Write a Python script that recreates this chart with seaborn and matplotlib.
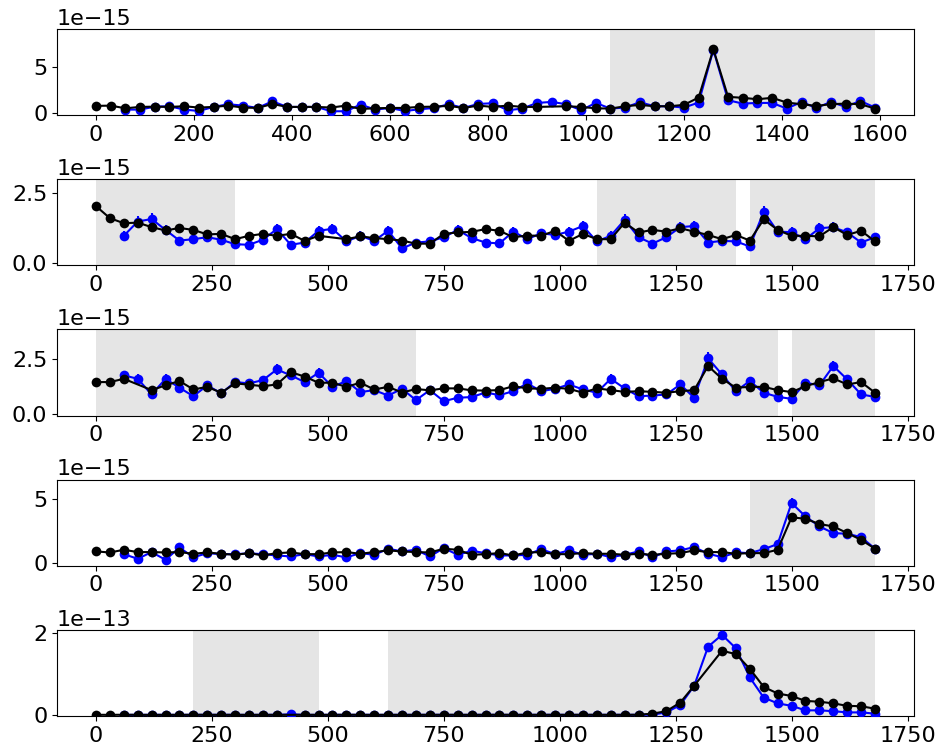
import numpy as np
import pandas as pd
import matplotlib
matplotlib.use("Agg")
import matplotlib.pyplot as plt
import seaborn as sns

nan = np.nan

# time grid (s): panel 1 runs to 1590, the others to 1680; the blue series starts at 60
t_short = np.arange(0, 1591, 30)
t_long = np.arange(0, 1681, 30)

# ---- panel 1 (x1e-15) ----
black1 = [0.80, 0.83, 0.54, 0.69, 0.72, 0.69, 0.76, 0.62, 0.69, 0.83,
          0.62, 0.58, 1.01, 0.69, 0.69, 0.69, 0.62, 0.83, 0.47, 0.54,
          0.58, 0.58, 0.69, 0.72, 0.80, 0.58, 0.83, 0.69, 0.83, 0.69,
          0.69, nan, 0.76, 0.69, 0.54, 0.51, 0.76, 0.91, 0.76, 0.76,
          0.91, 1.70, 6.92, 1.78, 1.67, 1.52, 1.67, 1.16, 0.98, 0.80,
          0.98, 1.05, 0.98, 0.51]
blue1 = [0.40, 0.40, 0.72, 0.76, 0.40, 0.25, 0.69, 0.98,
         0.83, 0.58, 1.30, 0.69, 0.69, 0.69, 0.22, 0.22, 0.94, 0.40,
         0.58, 0.25, 0.43, 0.58, 0.98, 0.58, 1.01, 1.09, 0.33, 0.51,
         1.12, 1.23, 0.98, 0.33, 1.12, 0.51, 0.62, 1.20, 0.76, 0.76,
         0.62, 1.16, 6.85, 1.41, 1.05, 1.12, 1.12, 0.51, 1.23, 0.58,
         1.23, 0.69, 1.34, 0.62]
err1 = [0.14, 0.15, 0.17, 0.16, 0.14, 0.12, 0.16, 0.18,
        0.17, 0.15, 0.21, 0.16, 0.16, 0.16, 0.12, 0.12, 0.18, 0.14,
        0.15, 0.12, 0.14, 0.15, 0.18, 0.15, 0.19, 0.19, 0.13, 0.14,
        0.19, 0.20, 0.18, 0.13, 0.19, 0.14, 0.15, 0.20, 0.16, 0.16,
        0.15, 0.20, 0.45, 0.21, 0.19, 0.19, 0.19, 0.14, 0.20, 0.15,
        0.20, 0.16, 0.21, 0.15]
spans1 = [(1050, 1590)]

# ---- panel 2 (x1e-15) ----
black2 = [2.03, 1.60, 1.42, 1.44, 1.28, 1.16, 1.25, 1.18, 1.02, 1.04,
          0.85, 0.97, 1.04, 0.97, 1.04, 0.79, 0.97, nan, 0.85, 0.95,
          0.89, 0.85, 0.80, 0.69, 0.69, 1.04, 1.09, 1.11, 1.21, 1.15,
          0.92, 0.98, 0.97, 1.15, 0.79, 1.04, 0.85, 0.85, 1.44, 1.09,
          1.18, 1.12, 1.24, 1.12, 1.00, 0.85, 1.00, 0.80, 1.56, 1.18,
          0.97, 0.97, 0.95, 1.28, 1.00, 1.15, 0.77]
blue2 = [0.97, 1.48, 1.57, 1.18, 0.80, 0.85, 0.92, 0.83,
         0.67, 0.65, 0.83, 1.21, 0.65, 0.73, 1.15, 1.22, 0.77, 0.97,
         0.79, 1.15, 0.52, 0.73, 0.77, 0.92, 1.18, 0.89, 0.73, 0.70,
         1.12, 0.85, 1.06, 1.00, 1.12, 1.32, 0.77, 0.97, 1.54, 0.92,
         0.69, 0.92, 1.28, 1.32, 0.73, 0.79, 0.77, 0.59, 1.83, 1.12,
         1.10, 0.85, 1.24, 1.28, 1.09, 0.73, 0.92]
err2 = [0.16, 0.19, 0.20, 0.17, 0.14, 0.15, 0.15, 0.15,
        0.13, 0.13, 0.15, 0.18, 0.13, 0.14, 0.17, 0.18, 0.14, 0.16,
        0.14, 0.17, 0.12, 0.14, 0.14, 0.15, 0.17, 0.15, 0.14, 0.14,
        0.17, 0.15, 0.16, 0.16, 0.17, 0.18, 0.14, 0.16, 0.20, 0.15,
        0.14, 0.15, 0.18, 0.18, 0.14, 0.14, 0.14, 0.13, 0.22, 0.17,
        0.17, 0.15, 0.18, 0.18, 0.17, 0.14, 0.15]
spans2 = [(0, 300), (1080, 1380), (1410, 1680)]

# ---- panel 3 (x1e-15) ----
black3 = [1.46, 1.46, 1.61, nan, 1.09, 1.31, 1.51, 1.12, 1.24, 0.97,
          1.40, 1.34, 1.27, 1.35, 1.92, 1.71, 1.43, 1.43, 1.24, 1.43,
          1.12, 1.24, 0.98, 1.14, 1.08, 1.17, 1.17, 1.08, 1.07, 1.09,
          1.27, 1.17, 1.15, 1.20, 1.15, 0.97, 1.17, 1.09, 1.01, 1.04,
          1.01, 0.97, 1.04, 1.09, 2.20, 1.61, 1.20, 1.24, 1.24, 1.09,
          1.00, 1.27, 1.46, 1.63, 1.35, 1.46, 0.97]
blue3 = [1.77, 1.61, 0.89, 1.61, 1.20, 0.81, 1.31, 0.94,
         1.46, 1.40, 1.55, 2.04, 1.77, 1.46, 1.89, 1.24, 1.51, 1.00,
         1.09, 0.84, 1.15, 0.63, 1.09, 0.58, 0.74, 0.77, 0.98, 0.86,
         1.04, 1.40, 1.04, 1.15, 1.35, 1.12, 0.97, 1.61, 1.17, 0.81,
         0.84, 0.89, 1.35, 0.74, 2.55, 1.81, 1.04, 1.51, 0.97, 0.78,
         0.69, 1.43, 1.31, 2.20, 1.58, 0.89, 0.78]
err3 = [0.22, 0.21, 0.16, 0.21, 0.18, 0.15, 0.19, 0.16,
        0.20, 0.19, 0.20, 0.24, 0.22, 0.20, 0.23, 0.18, 0.20, 0.16,
        0.17, 0.15, 0.17, 0.13, 0.17, 0.13, 0.14, 0.14, 0.16, 0.15,
        0.16, 0.19, 0.16, 0.17, 0.19, 0.17, 0.16, 0.21, 0.17, 0.15,
        0.15, 0.15, 0.19, 0.14, 0.27, 0.22, 0.16, 0.20, 0.16, 0.14,
        0.14, 0.19, 0.19, 0.24, 0.21, 0.15, 0.14]
spans3 = [(0, 690), (1260, 1470), (1500, 1680)]

# ---- panel 4 (x1e-15) ----
black4 = [0.93, 0.85, 1.06, 0.88, 0.88, 0.85, 0.88, 0.75, 0.85, 0.75,
          0.67, 0.80, 0.62, 0.80, 0.85, 0.72, 0.72, 0.85, 0.88, 0.75,
          0.88, 1.01, 0.93, 0.88, 0.85, 1.14, 1.06, 0.67, 0.72, 0.80,
          0.62, 0.85, 0.88, 0.72, 0.72, 0.80, 0.75, 0.75, 0.67, 0.75,
          0.67, 0.75, 0.80, 1.01, 0.88, 0.88, 0.75, 0.80, 0.80, 1.06,
          3.57, 3.46, 3.05, 2.87, 2.35, 1.83, 1.14]
blue4 = [0.72, 0.36, 0.88, 0.28, 1.24, 0.47, 0.80, 0.72,
         0.72, 0.78, 0.72, 0.62, 0.54, 0.72, 0.54, 0.67, 0.47, 0.80,
         0.67, 1.14, 0.93, 1.06, 0.54, 1.19, 0.67, 0.98, 0.80, 0.62,
         0.62, 0.67, 1.11, 0.72, 1.01, 0.67, 0.75, 0.49, 0.67, 0.93,
         0.47, 0.93, 1.01, 1.27, 0.75, 0.49, 0.85, 0.80, 1.11, 1.50,
         4.68, 3.64, 2.87, 2.35, 2.30, 2.04, 1.14]
err4 = [0.15, 0.11, 0.16, 0.10, 0.19, 0.12, 0.15, 0.15,
        0.15, 0.15, 0.15, 0.14, 0.13, 0.15, 0.13, 0.14, 0.12, 0.15,
        0.14, 0.18, 0.16, 0.17, 0.13, 0.18, 0.14, 0.17, 0.15, 0.14,
        0.14, 0.14, 0.18, 0.15, 0.17, 0.14, 0.15, 0.12, 0.14, 0.16,
        0.12, 0.16, 0.17, 0.19, 0.15, 0.12, 0.16, 0.15, 0.18, 0.21,
        0.38, 0.33, 0.29, 0.26, 0.26, 0.24, 0.18]
spans4 = [(1410, 1680)]

# ---- panel 5 (x1e-13) ----
black5 = [0.012, 0.011, 0.013, 0.012, 0.010, 0.012, 0.011, 0.013, 0.012, 0.011,
          0.012, 0.010, 0.012, 0.011, nan, 0.012, 0.011, 0.012, 0.013, 0.012,
          0.011, 0.012, 0.010, 0.012, 0.011, 0.013, 0.012, 0.011, 0.012, 0.013,
          0.012, 0.011, 0.012, 0.012, 0.011, 0.013, 0.012, 0.011, 0.012, 0.013,
          0.04, 0.10, 0.31, 0.72, nan, 1.57, 1.49, 1.13, 0.69, 0.53,
          0.47, 0.35, 0.33, 0.29, 0.23, 0.22, 0.16]
blue5 = [0.011, 0.010, 0.012, 0.011, 0.010, 0.012, 0.011, 0.012,
         0.011, 0.010, 0.011, 0.012, 0.022, 0.011, 0.010, 0.012, 0.011, 0.012,
         0.011, 0.010, 0.012, 0.011, 0.012, 0.011, 0.010, 0.011, 0.012, 0.011,
         0.010, 0.012, 0.011, 0.012, 0.011, 0.010, 0.011, 0.012, 0.011, 0.012,
         0.015, 0.07, 0.25, 0.72, 1.67, 1.96, 1.63, 0.92, 0.43, 0.29,
         0.23, 0.12, 0.12, 0.10, 0.07, 0.07, 0.04]
err5 = [0.004, 0.004, 0.004, 0.004, 0.004, 0.004, 0.004, 0.004,
        0.004, 0.004, 0.004, 0.004, 0.005, 0.004, 0.004, 0.004, 0.004, 0.004,
        0.004, 0.004, 0.004, 0.004, 0.004, 0.004, 0.004, 0.004, 0.004, 0.004,
        0.004, 0.004, 0.004, 0.004, 0.004, 0.004, 0.004, 0.004, 0.004, 0.004,
        0.004, 0.008, 0.015, 0.025, 0.04, 0.045, 0.04, 0.03, 0.02, 0.015,
        0.014, 0.010, 0.010, 0.009, 0.008, 0.008, 0.006]
spans5 = [(210, 480), (630, 1680)]

panels = [
    dict(t=t_short, black=black1, blue=blue1, err=err1, spans=spans1,
         scale=1e-15, ylim=(-0.2, 9.1), yticks=[0, 5], xticks=np.arange(0, 1601, 200)),
    dict(t=t_long, black=black2, blue=blue2, err=err2, spans=spans2,
         scale=1e-15, ylim=(-0.085, 2.99), yticks=[0.0, 2.5], xticks=np.arange(0, 1751, 250)),
    dict(t=t_long, black=black3, blue=blue3, err=err3, spans=spans3,
         scale=1e-15, ylim=(-0.08, 3.88), yticks=[0.0, 2.5], xticks=np.arange(0, 1751, 250)),
    dict(t=t_long, black=black4, blue=blue4, err=err4, spans=spans4,
         scale=1e-15, ylim=(-0.18, 6.49), yticks=[0, 5], xticks=np.arange(0, 1751, 250)),
    dict(t=t_long, black=black5, blue=blue5, err=err5, spans=spans5,
         scale=1e-13, ylim=(-0.017, 2.08), yticks=[0, 2], xticks=np.arange(0, 1751, 250)),
]

plt.rcParams["font.size"] = 16
plt.rcParams["font.family"] = ["DejaVu Sans"]

fig, axes = plt.subplots(5, 1, figsize=(9.41, 7.52), dpi=100)
fig.subplots_adjust(left=0.0606, right=0.9713, top=0.9614, bottom=0.0479, hspace=0.744)

mk = dict(marker="o", markersize=7, markeredgewidth=0, linewidth=1.5)

for ax, p in zip(axes, panels):
    s = p["scale"]
    t = p["t"]
    for lo, hi in p["spans"]:
        ax.axvspan(lo, hi, color="grey", alpha=0.2, lw=0, zorder=0)

    tb = t[2:]
    blue = pd.DataFrame({"t": tb, "v": np.array(p["blue"]) * s,
                         "e": np.array(p["err"]) * s})
    ax.errorbar(blue["t"], blue["v"], yerr=blue["e"], fmt="none",
                ecolor="blue", elinewidth=1.5, capsize=0, zorder=2)
    sns.lineplot(data=blue, x="t", y="v", ax=ax, color="blue",
                 estimator=None, zorder=3, **mk)

    black = pd.DataFrame({"t": t, "v": np.array(p["black"]) * s}).dropna()
    sns.lineplot(data=black, x="t", y="v", ax=ax, color="black",
                 estimator=None, zorder=4, **mk)

    ax.set_xlabel("")
    ax.set_ylabel("")
    span = t[-1] - t[0]
    ax.set_xlim(t[0] - 0.05 * span, t[-1] + 0.05 * span)
    ax.set_ylim(p["ylim"][0] * s, p["ylim"][1] * s)
    ax.set_xticks(p["xticks"])
    ax.set_yticks(np.array(p["yticks"]) * s)
    ax.tick_params(labelsize=16)

fig.savefig("out.png", dpi=100)
